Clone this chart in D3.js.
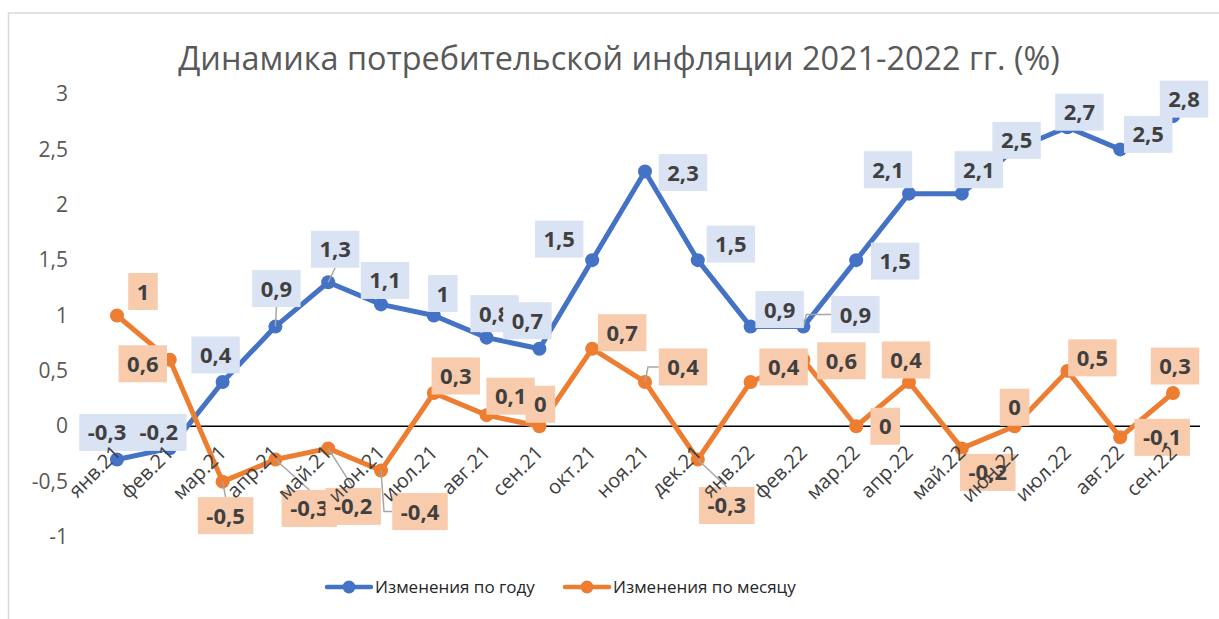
<!DOCTYPE html>
<html>
<head>
<meta charset="utf-8">
<script src="https://cdn.jsdelivr.net/npm/d3@7"></script>
<style>
  body { margin: 0; background: #fff; }
  svg { font-family: "Open Sans", sans-serif; }
</style>
</head>
<body>
<div id="chart"></div>
<script>
// DATA
const months = ["янв.21", "фев.21", "мар.21", "апр.21", "май.21", "июн.21", "июл.21", "авг.21", "сен.21",
  "окт.21", "ноя.21", "дек.21", "янв.22", "фев.22", "мар.22", "апр.22", "май.22", "июн.22", "июл.22", "авг.22", "сен.22"]
const yearChange = [-0.3, -0.2, 0.4, 0.9, 1.3, 1.1, 1, 0.8, 0.7, 1.5, 2.3, 1.5, 0.9, 0.9, 1.5, 2.1, 2.1, 2.5, 2.7, 2.5, 2.8]
const monthChange = [1, 0.6, -0.5, -0.3, -0.2, -0.4, 0.3, 0.1, 0, 0.7, 0.4, -0.3, 0.4, 0.6, 0, 0.4, -0.2, 0, 0.5, -0.1, 0.3]
const yTicks = [-1, -0.5, 0, 0.5, 1, 1.5, 2, 2.5, 3]
const seriesNames = ["Изменения по году", "Изменения по месяцу"]

// label placement (moved by hand in the original), box centre relative to point
const yearLabelPos = [[-10,-27],[-11,-16],[-7,-27],[1,-38],[7,-33],[4,-24],[9,-22],[8,-24],[-12,-28],[-33,-21],
  [38,1],[33,-16],[29,-17],[52,-12],[39,1],[-21,-24],[17,-24],[2,-9],[12,-15],[28,-15],[11,-17]]
const monthLabelPos = [[26,-24],[-27,4],[3,34],[34,49],[25,58],[39,41],[22,-17],[24,-19],[1,-22],[30,-16],
  [38,-15],[29,46],[33,-15],[38,1],[29,0],[-3,-22],[26,24],[0,-19],[25,-13],[42,0],[2,-27]]
const yearLeaders = [3, 4, 13]
const monthLeaders = [2, 3, 4, 5, 10, 11]

const width = 1219, height = 619
const fmt = v => String(v).replace(".", ",")

const svg = d3.select("#chart").append("svg")
  .attr("width", width)
  .attr("height", height)

// chart frame
svg.append("rect")
  .attr("x", 8.5).attr("y", 13)
  .attr("width", 1230).attr("height", 620)
  .attr("fill", "none")
  .attr("stroke", "#d9d9d9")
  .attr("stroke-width", 1.5)

const xScale = d3.scalePoint()
  .domain(months)
  .range([117, 1173])

const yScale = d3.scaleLinear()
  .domain([-1, 3])
  .range([537, 94])

// title
const title = svg.append("text")
  .attr("x", 619).attr("y", 70)
  .attr("text-anchor", "middle")
  .attr("font-size", 28)
  .attr("fill", "#595959")
  .text("Динамика потребительской инфляции 2021-2022 гг. (%)")
const tw = title.node().getComputedTextLength()
title.attr("font-size", 28 * 882 / tw)

// y axis labels
const yAxis = d3.axisLeft(yScale).tickValues(yTicks).tickSize(0).tickPadding(0).tickFormat(fmt)
svg.append("g")
  .attr("transform", "translate(68,0)")
  .call(yAxis)
  .call(g => g.select(".domain").remove())
  .call(g => g.selectAll("text").attr("font-size", 21).attr("fill", "#595959").attr("font-family", "Open Sans"))

// zero line
svg.append("line")
  .attr("x1", 90).attr("x2", 1200)
  .attr("y1", yScale(0)).attr("y2", yScale(0))
  .attr("stroke", "#000").attr("stroke-width", 1.5)

const colors = ["#4472C4", "#ED7D31"]
const boxFills = ["#DAE3F3", "#F8CBAD"]
const allSeries = [yearChange, monthChange]

const line = d3.line()
  .x((d, i) => xScale(months[i]))
  .y(d => yScale(d))

allSeries.forEach((vals, s) => {
  svg.append("path")
    .datum(vals)
    .attr("d", line)
    .attr("fill", "none")
    .attr("stroke", colors[s])
    .attr("stroke-width", 5)
    .attr("stroke-linejoin", "round")
    .attr("stroke-linecap", "round")
  svg.append("g").selectAll("circle")
    .data(vals)
    .join("circle")
      .attr("cx", (d, i) => xScale(months[i]))
      .attr("cy", d => yScale(d))
      .attr("r", 7)
      .attr("fill", colors[s])
})

// DATA LABELS
function drawLabels(vals, pos, leaders, fill) {
  const g = svg.append("g")
  vals.forEach((v, i) => {
    const px = xScale(months[i]), py = yScale(v)
    const cx = px + pos[i][0], cy = py + pos[i][1]
    const lg = g.append("g")
    const t = lg.append("text")
      .attr("x", cx).attr("y", cy + 8)
      .attr("text-anchor", "middle")
      .attr("font-size", 22)
      .attr("font-weight", "bold")
      .attr("fill", "#404040")
      .text(fmt(v))
    const w = t.node().getComputedTextLength() + 17, h = 37
    const bx = cx - w / 2, by = cy - h / 2
    if (leaders.includes(i)) {
      let pts
      if (px < bx - 8) pts = [[px, py], [px + 3, cy], [bx, cy]]
      else if (py > by + h) pts = [[px, py], [cx, by + h]]
      else pts = [[px, py], [cx, by]]
      g.append("path").lower()
        .attr("d", d3.line()(pts))
        .attr("fill", "none")
        .attr("stroke", "#a6a6a6")
        .attr("stroke-width", 1.5)
    }
    lg.insert("rect", "text")
      .attr("x", bx).attr("y", by)
      .attr("width", w).attr("height", h)
      .attr("fill", fill)
  })
}
drawLabels(yearChange, yearLabelPos, yearLeaders, boxFills[0])
drawLabels(monthChange, monthLabelPos, monthLeaders, boxFills[1])

// x axis labels (drawn on top)
const xAxis = d3.axisBottom(xScale).tickSize(0)
svg.append("g")
  .call(xAxis)
  .call(g => g.select(".domain").remove())
  .call(g => g.selectAll(".tick").attr("transform", d => `translate(${xScale(d) + 5},454)`))
  .call(g => g.selectAll("text")
    .attr("y", 0).attr("x", 0).attr("dy", 0)
    .attr("transform", "rotate(-45)")
    .attr("text-anchor", "end")
    .attr("font-size", 20)
    .attr("font-family", "Open Sans")
    .attr("fill", "#404040"))

// legend
const legendX = [327, 565]
seriesNames.forEach((name, s) => {
  const lg = svg.append("g").attr("transform", `translate(${legendX[s]},587)`)
  lg.append("line")
    .attr("x1", 0).attr("x2", 44)
    .attr("stroke", colors[s]).attr("stroke-width", 4.5).attr("stroke-linecap", "round")
  lg.append("circle").attr("cx", 22).attr("r", 6.5).attr("fill", colors[s])
  lg.append("text")
    .attr("x", 48).attr("y", 6)
    .attr("font-size", 17)
    .attr("fill", "#262626")
    .text(name)
})
</script>
</body>
</html>
